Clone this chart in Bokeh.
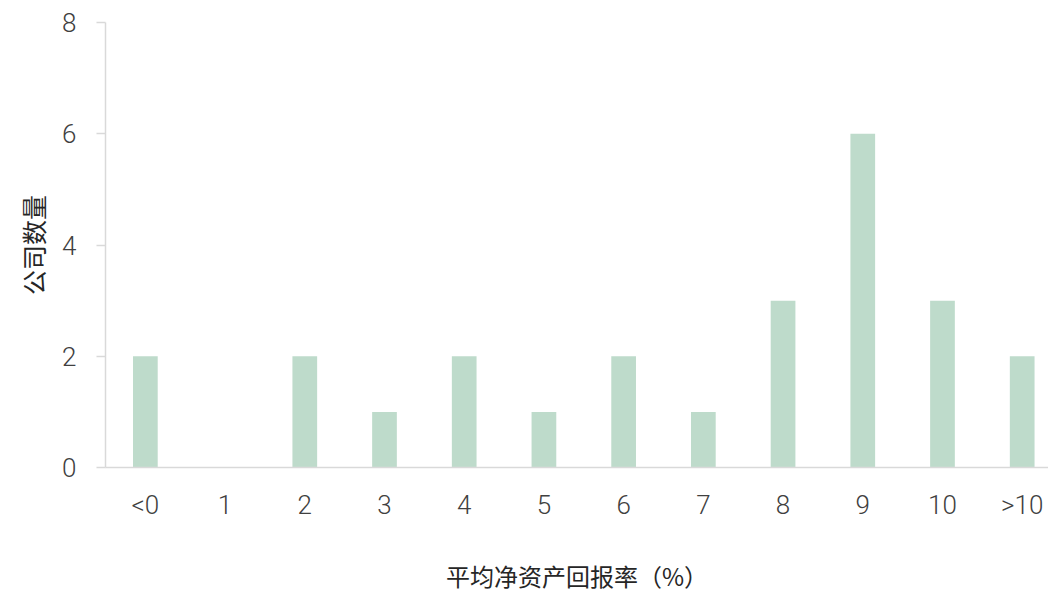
import numpy as np
from bokeh.plotting import figure
from bokeh.models import FixedTicker, Range1d
from bokeh.embed import file_html
from bokeh.resources import INLINE

categories = ["<0", "1", "2", "3", "4", "5", "6", "7", "8", "9", "10", ">10"]
counts = [2, 0, 2, 1, 2, 1, 2, 1, 3, 6, 3, 2]
y_ticks = [0, 2, 4, 6, 8]

positions = np.arange(len(categories))

p = figure(frame_width=943, frame_height=445, output_backend="svg", toolbar_location=None,
           x_range=Range1d(-0.5, 11.33), y_range=Range1d(0, 8),
           min_border_left=105, min_border_right=0, min_border_top=22, min_border_bottom=0)

p.vbar(x=positions, top=counts, width=0.31, color="#bedbcb", line_color=None)

p.outline_line_color = None
p.xgrid.grid_line_color = None
p.ygrid.grid_line_color = None
p.background_fill_color = "white"
p.border_fill_color = "white"

tick_font = "Roboto Light, Roboto"

# x axis
p.xaxis.ticker = FixedTicker(ticks=list(range(len(categories))))
p.xaxis.major_label_overrides = {i: c for i, c in enumerate(categories)}
p.xaxis.major_tick_line_color = None
p.xaxis.minor_tick_line_color = None
p.xaxis.axis_line_color = "#d9d9d9"
p.xaxis.axis_line_width = 1.5
p.xaxis.major_label_text_font = tick_font
p.xaxis.major_label_text_font_style = "normal"
p.xaxis.major_label_text_font_size = "26px"
p.xaxis.major_label_text_color = "#404040"
p.xaxis.major_label_standoff = 16
p.xaxis.axis_label = "平均净资产回报率（%）"
p.xaxis.axis_label_text_font = "Noto Sans CJK SC"
p.xaxis.axis_label_text_font_style = "normal"
p.xaxis.axis_label_text_font_size = "24px"
p.xaxis.axis_label_text_color = "#262626"
p.xaxis.axis_label_standoff = 35

# y axis
p.yaxis.ticker = FixedTicker(ticks=y_ticks)
p.yaxis.minor_tick_line_color = None
p.yaxis.major_tick_out = 9
p.yaxis.major_tick_in = 0
p.yaxis.major_tick_line_color = "#d9d9d9"
p.yaxis.major_tick_line_width = 1.5
p.yaxis.axis_line_color = "#d9d9d9"
p.yaxis.axis_line_width = 1.5
p.yaxis.major_label_text_font = tick_font
p.yaxis.major_label_text_font_size = "26px"
p.yaxis.major_label_text_color = "#404040"
p.yaxis.major_label_standoff = 20
p.yaxis.axis_label = "公司数量"
p.yaxis.axis_label_text_font = "Noto Sans CJK SC"
p.yaxis.axis_label_text_font_style = "normal"
p.yaxis.axis_label_text_font_size = "25px"
p.yaxis.axis_label_text_color = "#262626"
p.yaxis.axis_label_standoff = 8

open("out.html", "w").write(file_html(p, INLINE))
